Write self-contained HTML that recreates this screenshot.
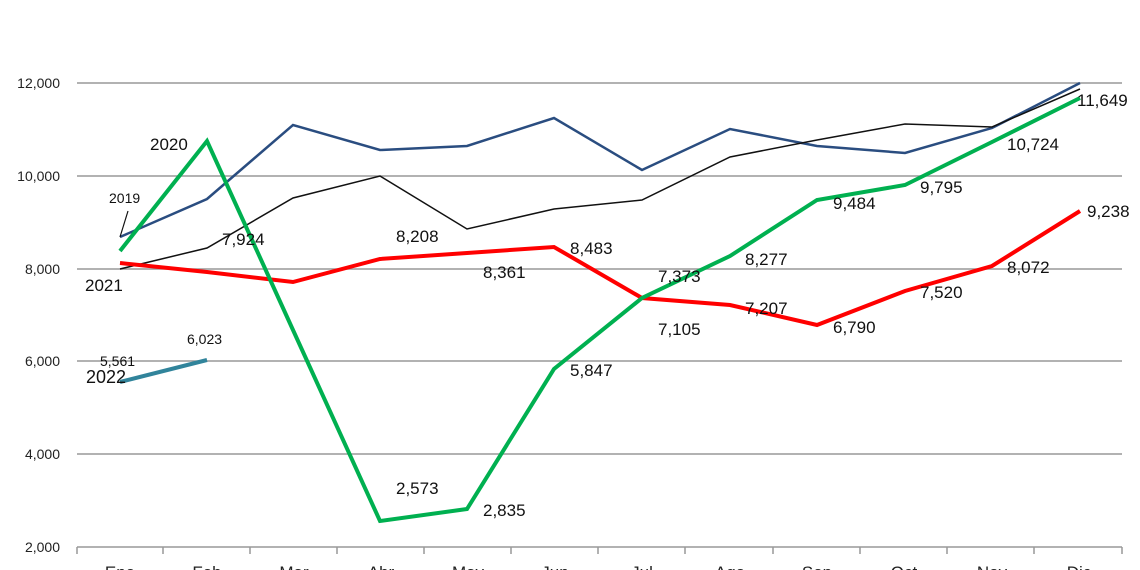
<!DOCTYPE html>
<html><head><meta charset="utf-8"><style>
html,body{margin:0;padding:0;background:#fff;}
svg{display:block;font-family:"Liberation Sans",sans-serif;}
</style></head><body>
<svg width="1140" height="570" viewBox="0 0 1140 570">
<g stroke="#999" stroke-width="1.5">
<line x1="77" y1="83" x2="1122" y2="83"/>
<line x1="77" y1="176" x2="1122" y2="176"/>
<line x1="77" y1="269" x2="1122" y2="269"/>
<line x1="77" y1="361" x2="1122" y2="361"/>
<line x1="77" y1="454" x2="1122" y2="454"/>
<line x1="77" y1="547" x2="1122" y2="547"/>
<line x1="77" y1="547" x2="77" y2="554"/><line x1="163" y1="547" x2="163" y2="554"/><line x1="250" y1="547" x2="250" y2="554"/><line x1="337" y1="547" x2="337" y2="554"/><line x1="424" y1="547" x2="424" y2="554"/><line x1="511" y1="547" x2="511" y2="554"/><line x1="598" y1="547" x2="598" y2="554"/><line x1="685" y1="547" x2="685" y2="554"/><line x1="773" y1="547" x2="773" y2="554"/><line x1="860" y1="547" x2="860" y2="554"/><line x1="947" y1="547" x2="947" y2="554"/><line x1="1034" y1="547" x2="1034" y2="554"/><line x1="1122" y1="547" x2="1122" y2="554"/>
</g>
<g font-size="14" fill="#222" text-anchor="end">
<text x="60" y="88">12,000</text><text x="60" y="181">10,000</text><text x="60" y="274">8,000</text><text x="60" y="366">6,000</text><text x="60" y="459">4,000</text><text x="60" y="552">2,000</text>
</g>
<g font-size="17" fill="#222" text-anchor="middle">
<text x="120" y="578">Ene</text><text x="207" y="578">Feb</text><text x="294" y="578">Mar</text><text x="381" y="578">Abr</text><text x="468" y="578">May</text><text x="555" y="578">Jun</text><text x="642" y="578">Jul</text><text x="730" y="578">Ago</text><text x="817" y="578">Sep</text><text x="904" y="578">Oct</text><text x="992" y="578">Nov</text><text x="1079" y="578">Dic</text>
</g>
<polyline fill="none" stroke="#2a4d80" stroke-width="2.5" points="120,237 207,199 293,125 380,150 467,146 554,118 642,170 730,129 817,146 905,153 992,128 1080,83"/>
<polyline fill="none" stroke="#111" stroke-width="1.5" points="120,269 207,248 293,198 380,176 467,229 554,209 642,200 730,157 817,140 905,124 992,127 1080,89"/>
<polyline fill="none" stroke="#ff0000" stroke-width="4" points="120,263 207,272 293,282 380,259 467,253 554,247 642,298 730,305 817,325 905,291 992,266 1080,211"/>
<polyline fill="none" stroke="#00b050" stroke-width="4" points="120,251 207,141 293,330 380,521 467,509 554,369 642,298 730,256 817,200 905,185 992,142 1080,98"/>
<polyline fill="none" stroke="#31849b" stroke-width="4" points="120,382 207,360"/>
<line x1="120" y1="237" x2="128" y2="211" stroke="#111" stroke-width="1.2"/>
<g font-size="17" fill="#111">
<text x="150" y="150">2020</text>
<text x="109" y="203" font-size="14">2019</text>
<text x="85" y="291">2021</text>
<text x="86" y="383" font-size="18">2022</text>
<text x="100" y="366" font-size="14">5,561</text>
<text x="187" y="344" font-size="14">6,023</text>
<text x="222" y="245">7,924</text>
<text x="396" y="242">8,208</text>
<text x="483" y="278">8,361</text>
<text x="570" y="254">8,483</text>
<text x="658" y="282">7,373</text>
<text x="658" y="335">7,105</text>
<text x="745" y="265">8,277</text>
<text x="745" y="314">7,207</text>
<text x="833" y="333">6,790</text>
<text x="833" y="209">9,484</text>
<text x="920" y="193">9,795</text>
<text x="920" y="298">7,520</text>
<text x="1007" y="150">10,724</text>
<text x="1007" y="273">8,072</text>
<text x="1077" y="106">11,649</text>
<text x="1087" y="217">9,238</text>
<text x="396" y="494">2,573</text>
<text x="483" y="516">2,835</text>
<text x="570" y="376">5,847</text>
</g>
</svg>
</body></html>
